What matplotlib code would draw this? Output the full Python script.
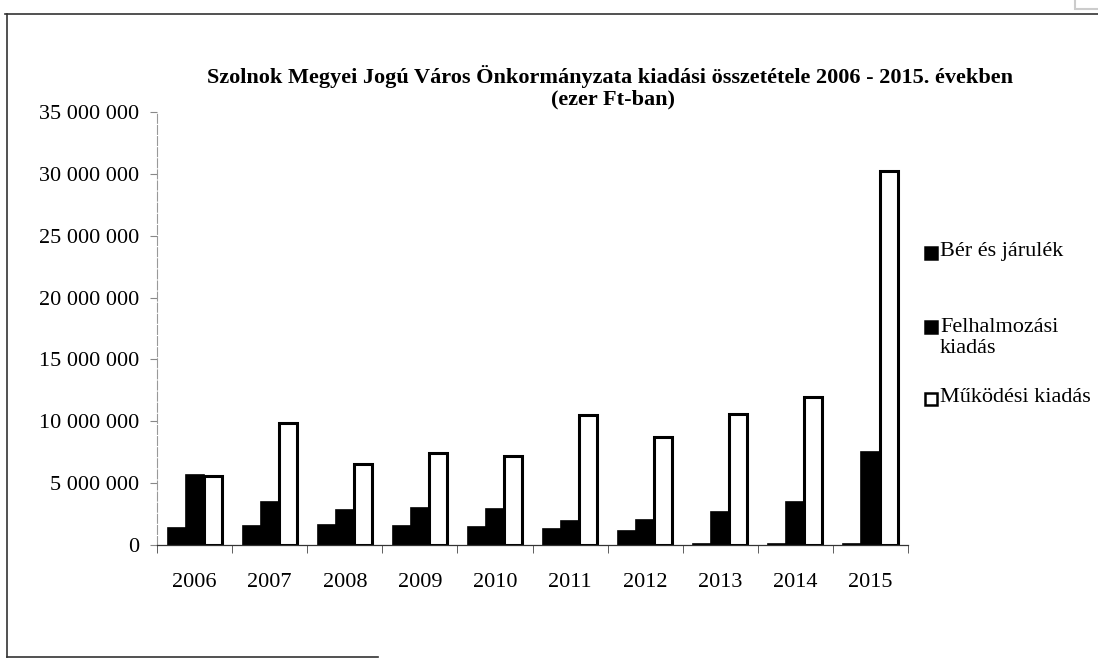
import matplotlib
matplotlib.use("Agg")
import matplotlib.pyplot as plt
import numpy as np
from matplotlib.patches import Rectangle
from matplotlib.lines import Line2D

years = ["2006", "2007", "2008", "2009", "2010", "2011", "2012", "2013", "2014", "2015"]
ber = [1.4e6, 1.5e6, 1.6e6, 1.55e6, 1.45e6, 1.3e6, 1.15e6, 0.08e6, 0.08e6, 0.08e6]
felhalm = [5.7e6, 3.45e6, 2.85e6, 3.0e6, 2.9e6, 1.95e6, 2.0e6, 2.67e6, 3.45e6, 7.5e6]
mukodesi = [5.55e6, 9.85e6, 6.55e6, 7.4e6, 7.2e6, 10.5e6, 8.75e6, 10.6e6, 12.0e6, 30.2e6]
yticks = [0, 5e6, 10e6, 15e6, 20e6, 25e6, 30e6, 35e6]
labels = ["Bér és járulék", "Felhalmozási\nkiadás", "Működési kiadás"]

plt.rcParams['font.family'] = ['Liberation Serif', 'DejaVu Serif']

fig = plt.figure(figsize=(10.98, 6.62), dpi=100)
ax = fig.add_axes([0.143, 0.1767, 0.684, 0.654])

x = np.arange(len(years))
w = 0.24
ax.bar(x - w, ber, w, color='black', edgecolor='black', linewidth=1.2)
ax.bar(x, felhalm, w, color='black', edgecolor='black', linewidth=1.2)
ax.bar(x + w, mukodesi, w, color='white', edgecolor='black', linewidth=2.2)

ax.set_xlim(-0.5, len(years) - 0.5)
ax.set_ylim(0, 35e6)
ax.set_yticks(yticks)
ax.set_yticklabels([f"{int(v):,}".replace(",", " ") for v in yticks], fontsize=16)
ax.set_xticks(x)
ax.set_xticklabels(years, fontsize=16)
ax.set_xticks(np.arange(len(years) + 1) - 0.5, minor=True)
ax.tick_params(axis='x', which='major', length=0, pad=20)
ax.tick_params(axis='x', which='minor', length=6, color='#444444', direction='out')
ax.tick_params(axis='y', length=5, color='#888888', pad=8)

for s in ['top', 'right']:
    ax.spines[s].set_visible(False)
ax.spines['left'].set_color('#999999')
ax.spines['left'].set_linewidth(0.8)
ax.spines['left'].set_linestyle((0, (8, 2)))
ax.spines['bottom'].set_color('#333333')
ax.spines['bottom'].set_linewidth(0.9)

fig.text(0.556, 1 - 76 / 662, "Szolnok Megyei Jogú Város Önkormányzata kiadási összetétele 2006 - 2015. években",
         ha='center', va='center', fontsize=16, fontweight='bold')
fig.text(0.558, 1 - 99 / 662, "(ezer Ft-ban)", ha='center', va='center', fontsize=16, fontweight='bold')

# legend
leg_y = [252, 338, 398]
leg_fill = ['black', 'black', 'white']
for yy, lab, fc in zip(leg_y, labels, leg_fill):
    yf = 1 - yy / 662
    nlines = lab.count("\n") + 1
    sq_y = yf + (nlines - 1) * 12 / 662
    fig.patches.append(Rectangle((925 / 1098, sq_y - 7 / 662), 12 / 1098, 12 / 662,
                                 transform=fig.transFigure, facecolor=fc,
                                 edgecolor='black', linewidth=1.8))
    fig.text(940 / 1098, yf, lab, ha='left', va='center', fontsize=16, linespacing=1.1)

# outer chart frame from the scan
fig.lines.append(Line2D([0.005, 1.0], [1 - 14 / 662, 1 - 14 / 662], transform=fig.transFigure,
                        color='#333333', linewidth=1.2))
fig.lines.append(Line2D([7 / 1098, 7 / 1098], [1 - 14 / 662, 1 - 657 / 662], transform=fig.transFigure,
                        color='#333333', linewidth=1.2))
fig.lines.append(Line2D([7 / 1098, 378 / 1098], [1 - 657 / 662, 1 - 657 / 662], transform=fig.transFigure,
                        color='#333333', linewidth=1.2))
fig.patches.append(Rectangle((1075 / 1098, 1 - 9 / 662), 30 / 1098, 12 / 662, transform=fig.transFigure,
                             facecolor='white', edgecolor='#cccccc', linewidth=1.5))

fig.savefig("out.png", dpi=100)
